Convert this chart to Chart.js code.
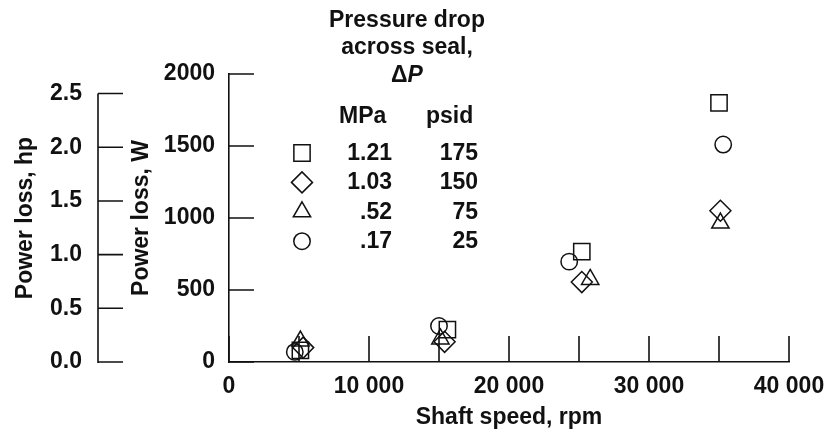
<!DOCTYPE html>
<html>
<head>
<meta charset="utf-8">
<script src="https://cdn.jsdelivr.net/npm/chart.js@4/dist/chart.umd.min.js"></script>
<style>
	html, body { margin: 0; padding: 0; background: #fff; }
	#wrap { width: 828px; height: 432px; }
</style>
</head>
<body>
<div id="wrap"><canvas id="seal-chart" width="828" height="432"></canvas></div>
<script>
(function () {
	'use strict';

	const ink = '#111';
	const fontFamily = "'Liberation Sans', Arial, Helvetica, sans-serif";
	const textSize = 23;
	const wattsPerHp = 745.7;

	// Shaft speed (rpm) and power loss (W), one array per pressure drop
	const speed175 = [5100, 15600, 25200, 35000];
	const loss175 = [80, 225, 766, 1800];
	const speed150 = [5300, 15400, 25200, 35100];
	const loss150 = [100, 140, 555, 1050];
	const speed75 = [5100, 15100, 25800, 35100];
	const loss75 = [145, 160, 573, 965];
	const speed25 = [4700, 15000, 24300, 35300];
	const loss25 = [70, 250, 697, 1510];

	const pressureMPa = ['1.21', '1.03', '.52', '.17'];
	const pressurePsid = ['175', '150', '75', '25'];
	const markerStyles = ['rect', 'rectRot', 'triangle', 'circle'];
	const markerRadius = [11.5, 10.5, 10, 8.2];

	const speedTicks = [0, 5000, 10000, 15000, 20000, 25000, 30000, 35000, 40000];
	const wattTicks = [0, 500, 1000, 1500, 2000];
	const hpTicks = [0, 0.5, 1.0, 1.5, 2.0, 2.5];

	function toPoints(xs, ys) {
		return xs.map(function (x, i) {
			return { x: x, y: ys[i] };
		});
	}

	function series(label, xs, ys, i) {
		return {
			label: label,
			data: toPoints(xs, ys),
			pointStyle: markerStyles[i],
			pointRadius: markerRadius[i],
			pointHoverRadius: markerRadius[i],
			pointBorderWidth: 1.5,
			borderColor: ink,
			backgroundColor: 'rgba(0,0,0,0)',
			showLine: false
		};
	}

	function font(style) {
		return (style || 'bold') + ' ' + textSize + 'px ' + fontFamily;
	}

	function drawMarker(ctx, style, r, x, y) {
		ctx.lineWidth = 1.5;
		ctx.strokeStyle = ink;
		ctx.fillStyle = 'rgba(0,0,0,0)';
		if (Chart.helpers && Chart.helpers.drawPoint) {
			Chart.helpers.drawPoint(ctx, { pointStyle: style, radius: r, borderWidth: 1.5, rotation: 0 }, x, y);
		}
	}

	const insideTicks = {
		id: 'insideTicks',
		afterDraw: function (chart) {
			const ctx = chart.ctx;
			const sx = chart.scales.x;
			const sw = chart.scales.y;
			const sh = chart.scales.hp;

			ctx.save();
			ctx.strokeStyle = ink;
			ctx.lineWidth = 1.6;
			ctx.beginPath();

			// hp axis only runs to its last tick
			ctx.moveTo(sh.right, sh.getPixelForValue(0) + 1);
			ctx.lineTo(sh.right, sh.getPixelForValue(hpTicks[hpTicks.length - 1]));

			hpTicks.forEach(function (v) {
				const py = sh.getPixelForValue(v);
				ctx.moveTo(sh.right, py);
				ctx.lineTo(sh.right + 25, py);
			});
			wattTicks.forEach(function (v) {
				const py = sw.getPixelForValue(v);
				ctx.moveTo(sw.right, py);
				ctx.lineTo(sw.right + 25, py);
			});
			speedTicks.forEach(function (v) {
				const px = sx.getPixelForValue(v);
				ctx.moveTo(px, sx.top);
				ctx.lineTo(px, sx.top - 26);
			});
			ctx.stroke();
			ctx.restore();
		}
	};

	const keyTable = {
		id: 'keyTable',
		afterDraw: function (chart) {
			const ctx = chart.ctx;
			const centerX = 407;

			ctx.save();
			ctx.fillStyle = ink;
			ctx.textBaseline = 'alphabetic';
			ctx.font = font();
			ctx.textAlign = 'center';
			ctx.fillText('Pressure drop', centerX, 27);
			ctx.fillText('across seal,', centerX, 54);

			const deltaW = ctx.measureText('\u0394').width;
			ctx.font = font('italic bold');
			const pW = ctx.measureText('P').width;
			const startX = centerX - (deltaW + pW) / 2;
			ctx.textAlign = 'left';
			ctx.font = font();
			ctx.fillText('\u0394', startX, 82);
			ctx.font = font('italic bold');
			ctx.fillText('P', startX + deltaW, 82);

			ctx.font = font();
			ctx.textAlign = 'left';
			ctx.fillText('MPa', 339, 123);
			ctx.fillText('psid', 426, 123);

			ctx.textAlign = 'right';
			pressureMPa.forEach(function (mpa, i) {
				const base = 160 + i * 29.4;
				ctx.fillStyle = ink;
				ctx.fillText(mpa, 392, base);
				ctx.fillText(pressurePsid[i], 478, base);
				drawMarker(ctx, markerStyles[i], markerRadius[i], 302, base - 7);
			});
			ctx.restore();
		}
	};

	const tickFont = { family: fontFamily, size: textSize, weight: 'bold' };
	const noGrid = { display: false, drawTicks: false };

	new Chart(document.getElementById('seal-chart'), {
		type: 'scatter',
		data: {
			datasets: [
				series('1.21 MPa', speed175, loss175, 0),
				series('1.03 MPa', speed150, loss150, 1),
				series('.52 MPa', speed75, loss75, 2),
				series('.17 MPa', speed25, loss25, 3)
			]
		},
		options: {
			responsive: false,
			animation: false,
			devicePixelRatio: 1,
			events: [],
			layout: { padding: { top: 74, right: 0, left: 0, bottom: 0 } },
			plugins: {
				legend: { display: false },
				tooltip: { enabled: false }
			},
			scales: {
				x: {
					type: 'linear',
					min: speedTicks[0],
					max: speedTicks[speedTicks.length - 1],
					afterBuildTicks: function (scale) {
						scale.ticks = speedTicks.map(function (v) { return { value: v }; });
					},
					afterFit: function (scale) {
						scale.height = 70;
						scale.paddingLeft = 0;
						scale.paddingRight = 39;
					},
					grid: noGrid,
					border: { display: true, color: ink, width: 1.6 },
					ticks: {
						color: ink,
						font: tickFont,
						padding: 11,
						autoSkip: false,
						maxRotation: 0,
						callback: function (v) {
							if (v % 10000 !== 0) {
								return '';
							}
							return v === 0 ? '0' : (v / 1000) + ' 000';
						}
					},
					title: {
						display: true,
						text: 'Shaft speed, rpm',
						color: ink,
						font: tickFont,
						padding: { top: 0, bottom: 1 }
					}
				},
				y: {
					type: 'linear',
					position: 'left',
					weight: 0,
					min: wattTicks[0],
					max: wattTicks[wattTicks.length - 1],
					afterBuildTicks: function (scale) {
						scale.ticks = wattTicks.map(function (v) { return { value: v }; });
					},
					afterFit: function (scale) { scale.width = 131; },
					grid: noGrid,
					border: { display: true, color: ink, width: 1.6 },
					ticks: {
						color: ink,
						font: tickFont,
						padding: 14,
						callback: function (v) { return String(v); }
					},
					title: {
						display: true,
						text: 'Power loss, W',
						color: ink,
						font: tickFont,
						padding: { top: 30, bottom: 0 }
					}
				},
				hp: {
					type: 'linear',
					position: 'left',
					weight: 1,
					min: 0,
					max: wattTicks[wattTicks.length - 1] / wattsPerHp,
					afterBuildTicks: function (scale) {
						scale.ticks = hpTicks.map(function (v) { return { value: v }; });
					},
					afterFit: function (scale) { scale.width = 98; },
					grid: noGrid,
					border: { display: false },
					ticks: {
						color: ink,
						font: tickFont,
						padding: 16,
						callback: function (v) { return Number(v).toFixed(1); }
					},
					title: {
						display: true,
						text: 'Power loss, hp',
						color: ink,
						font: tickFont,
						padding: { top: 12, bottom: 0 }
					}
				}
			}
		},
		plugins: [insideTicks, keyTable]
	});
})();
</script>
</body>
</html>
